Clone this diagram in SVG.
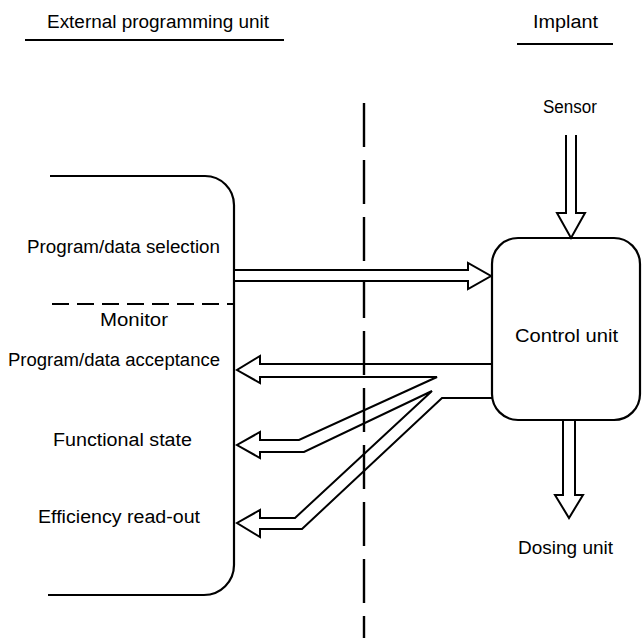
<svg xmlns="http://www.w3.org/2000/svg" width="642" height="638" viewBox="0 0 642 638">
<style>
text{font-family:"Liberation Sans",Arial,sans-serif;font-size:18px;fill:#000}
.ln{fill:none;stroke:#000;stroke-width:2.2;stroke-linejoin:miter}
.ar{fill:#fff;stroke:#000;stroke-width:2;stroke-linejoin:miter}
.dash{fill:none;stroke:#000;stroke-width:2.4}
</style>
<rect width="642" height="638" fill="#fff"/>
<g id="titles">
<text x="47" y="28" textLength="222" lengthAdjust="spacingAndGlyphs">External programming unit</text>
<line class="ln" x1="25" y1="40" x2="284" y2="40"/>
<text x="533" y="28" textLength="65" lengthAdjust="spacingAndGlyphs">Implant</text>
<line class="ln" x1="517" y1="44" x2="613" y2="44"/>
</g>
<g id="boundary">
<line class="dash" x1="364" y1="103" x2="364" y2="638" stroke-dasharray="44 13"/>
</g>
<g id="external-unit">
<path class="ln" d="M50 176 H205 A29 29 0 0 1 234 205 V565 A30 30 0 0 1 204 595 H48"/>
<line class="ln" x1="52" y1="304" x2="234" y2="304" stroke-dasharray="17 8"/>
<text x="27" y="253" textLength="193" lengthAdjust="spacingAndGlyphs">Program/data selection</text>
<text x="100" y="326" textLength="68" lengthAdjust="spacingAndGlyphs">Monitor</text>
<text x="8" y="366" textLength="212" lengthAdjust="spacingAndGlyphs">Program/data acceptance</text>
<text x="53" y="446" textLength="139" lengthAdjust="spacingAndGlyphs">Functional state</text>
<text x="38" y="523" textLength="162" lengthAdjust="spacingAndGlyphs">Efficiency read-out</text>
</g>
<g id="control-unit">
<rect class="ln" x="492" y="238" width="148" height="182" rx="26" ry="26" fill="#fff"/>
<text x="515" y="342" textLength="103" lengthAdjust="spacingAndGlyphs">Control unit</text>
</g>
<g id="sensor">
<text x="543" y="113" textLength="54" lengthAdjust="spacingAndGlyphs">Sensor</text>
</g>
<g id="dosing-unit">
<text x="518" y="554" textLength="95" lengthAdjust="spacingAndGlyphs">Dosing unit</text>
</g>
<g id="connectors">
<path class="ar" d="M566 135 V213 H557 L571 238 L585 213 H576 V135"/>
<path class="ar" d="M563 421 V495 H555 L569 518 L583 495 H575 V421"/>
<path class="ar" d="M235 270 H468 V263 L491 276 L468 289 V281 H235"/>
<path class="ar" d="M492 364 H260 V356 L237 370 L260 383 V377 H437 L299 440 H260 V432 L237 445 L260 458 V452 H304 L432 391 L295 518 H260 V510 L237 523 L260 537 V529 H302 L442 398 H492" style="fill:none"/>
</g>
</svg>
